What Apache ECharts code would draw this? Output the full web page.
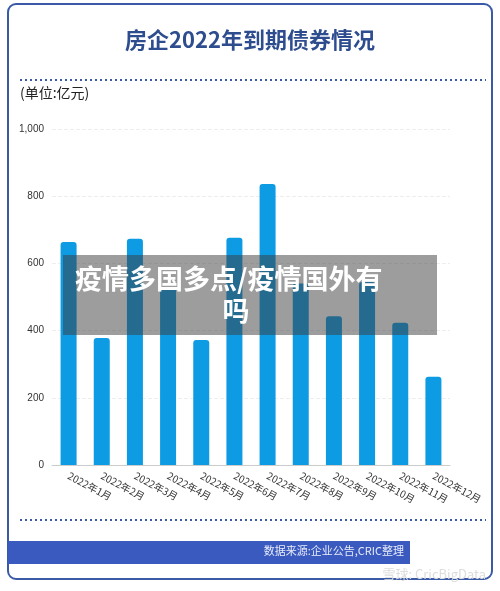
<!DOCTYPE html><html><head><meta charset="utf-8"><script src="https://cdn.jsdelivr.net/npm/echarts@6/dist/echarts.min.js"></script></head><body style="margin:0;background:#fff"><div id="c" style="width:500px;height:591px"></div><script>
const categories=['2022年1月','2022年2月','2022年3月','2022年4月','2022年5月','2022年6月','2022年7月','2022年8月','2022年9月','2022年10月','2022年11月','2022年12月'];
const values=[664,378,673,530,372,676,836,540,443,545,423,263];
const yTicks=[0,200,400,600,800,1000];
const c=echarts.init(document.getElementById('c'));
const F='"Noto Sans CJK SC","Noto Sans",sans-serif';
c.setOption({
animation:false,
graphic:[
{type:'rect',shape:{x:8,y:4,width:484,height:575,r:8},style:{fill:'#fff',stroke:'#3a5aa8',lineWidth:2},z:-1},
{type:'line',shape:{x1:20,y1:80,x2:486,y2:80},style:{stroke:'#3a5aa8',lineWidth:2,lineDash:[2,3]}},
{type:'line',shape:{x1:20,y1:520,x2:486,y2:520},style:{stroke:'#3a5aa8',lineWidth:2,lineDash:[2,3]}},
{type:'rect',shape:{x:8,y:541,width:402,height:23},style:{fill:'#3a5ac0'}},
{type:'text',left:'center',top:29,style:{text:'房企2022年到期债券情况',font:'bold 22px '+F,fill:'#2e4d8f'}},
{type:'text',left:20,top:86,style:{text:'(单位:亿元)',font:'14px '+F,fill:'#222'}},
{type:'text',right:96,top:545,style:{text:'数据来源:企业公告,CRIC整理',font:'11px '+F,fill:'#e8ecf8'}},
{type:'text',right:14,top:568,style:{text:'雪球: CricBigData',font:'13px '+F,fill:'#ddd'}},
{type:'rect',shape:{x:63,y:255,width:374,height:80},style:{fill:'rgba(60,60,60,0.5)'},z:100},
{type:'text',x:75,y:279,z:101,style:{text:'疫情多国多点/疫情国外有',font:'bold 27px '+F,fill:'#fff',align:'left',verticalAlign:'middle'}},
{type:'text',x:236,y:311,z:101,style:{text:'吗',font:'bold 27px '+F,fill:'#fff',align:'center',verticalAlign:'middle'}}
],
grid:{left:52,right:50,top:129,bottom:126,containLabel:false},
xAxis:{type:'category',data:categories,axisTick:{show:false},axisLine:{lineStyle:{color:'#ccc'}},axisLabel:{rotate:-28,fontSize:10,color:'#333',interval:0,margin:10,fontFamily:F,align:'left'}},
yAxis:{type:'value',min:0,max:1000,interval:200,axisLine:{show:false},axisTick:{show:false},splitLine:{lineStyle:{color:'#eee',type:'dashed'}},axisLabel:{fontSize:10,color:'#333',formatter:v=>yTicks.includes(v)?v.toLocaleString('en-US'):''}},
series:[{type:'bar',data:values,barWidth:16,itemStyle:{color:'#0d9be3',borderRadius:[3,3,0,0]}}]
});
</script></body></html>
